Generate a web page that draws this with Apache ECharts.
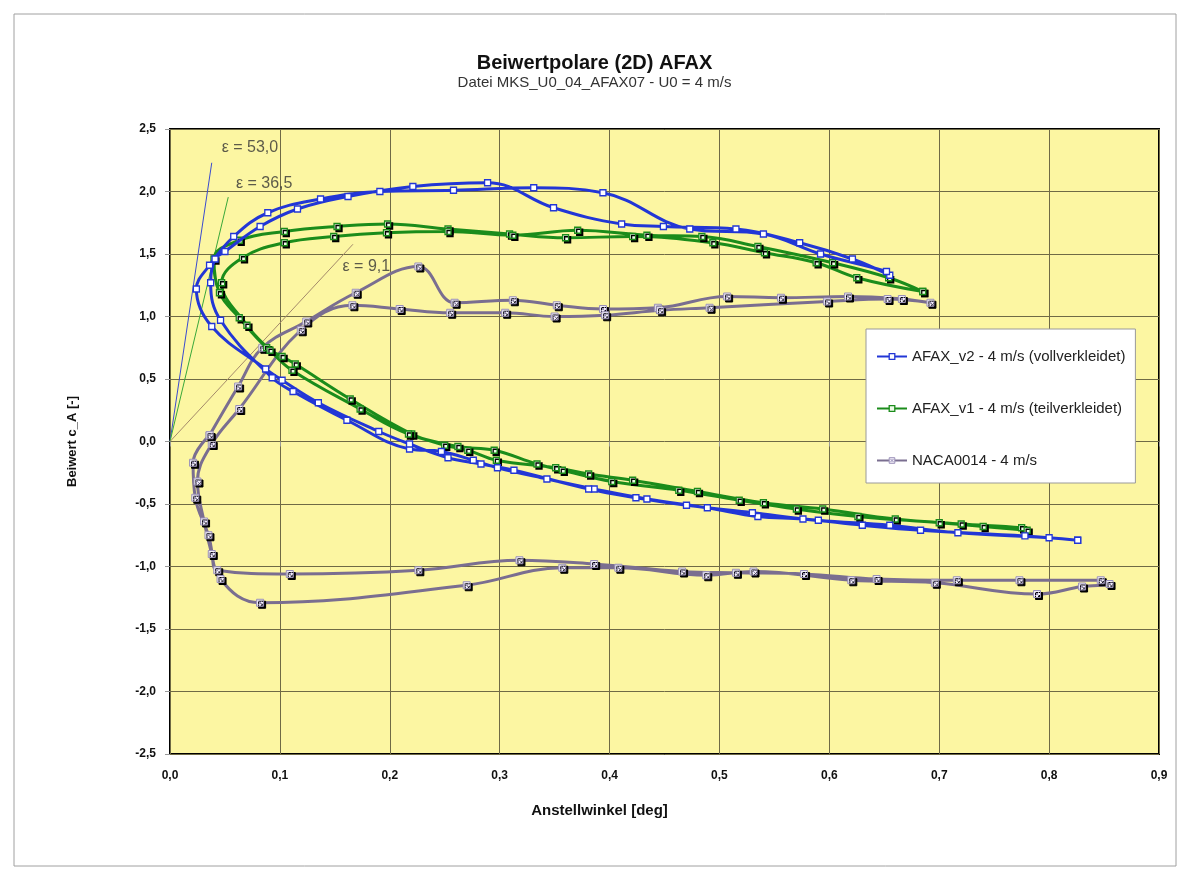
<!DOCTYPE html>
<html><head><meta charset="utf-8">
<script src="https://cdn.jsdelivr.net/npm/echarts@6/dist/echarts.min.js"></script>
<style>html,body{margin:0;padding:0;background:#fff}#c{width:1189px;height:880px}</style>
</head><body><div id="c"></div>
<script>
const titleText = 'Beiwertpolare (2D) AFAX';
const subTitleText = 'Datei MKS_U0_04_AFAX07 - U0 = 4 m/s';
const xAxisName = 'Anstellwinkel [deg]';
const yAxisName = 'Beiwert c_A [-]';
const seriesNames = ['AFAX_v2 - 4 m/s (vollverkleidet)', 'AFAX_v1 - 4 m/s (teilverkleidet)', 'NACA0014 - 4 m/s'];

// AFAX_v2 (blue) — measured loop [angle, cA]
const afaxV2 = [
  [0.826,-0.79],[0.778,-0.755],[0.683,-0.71],[0.63,-0.67],[0.576,-0.62],[0.535,-0.60],[0.489,-0.53],[0.434,-0.46],[0.386,-0.38],[0.343,-0.30],[0.298,-0.21],[0.276,-0.15],[0.247,-0.08],[0.218,-0.06],[0.161,0.17],[0.112,0.40],[0.093,0.51],[0.046,0.97],
  [0.037,1.27],[0.041,1.46],[0.05,1.52],[0.082,1.72],[0.116,1.86],[0.162,1.96],[0.221,2.04],[0.289,2.07],[0.349,1.87],[0.411,1.74],[0.449,1.72],[0.515,1.70],[0.573,1.59],[0.621,1.46],[0.655,1.33],
  [0.652,1.36],[0.592,1.50],[0.54,1.66],[0.473,1.70],[0.394,1.99],[0.331,2.03],[0.258,2.01],[0.191,2.00],[0.137,1.94],[0.089,1.83],[0.058,1.64],[0.036,1.41],[0.024,1.22],
  [0.038,0.92],[0.087,0.58],[0.102,0.49],[0.135,0.31],[0.19,0.08],[0.218,-0.02],[0.253,-0.13],[0.283,-0.18],[0.313,-0.23],[0.381,-0.38],[0.424,-0.45],[0.47,-0.51],[0.53,-0.57],[0.59,-0.63],[0.655,-0.67],[0.717,-0.73],[0.80,-0.77],[0.826,-0.79]
];

// AFAX_v1 (green)
const afaxV1 = [
  [0.685,1.20],[0.625,1.31],[0.588,1.43],[0.541,1.51],[0.494,1.59],[0.421,1.64],[0.36,1.63],[0.309,1.66],[0.253,1.70],[0.198,1.74],[0.152,1.72],[0.104,1.68],[0.063,1.61],[0.040,1.46],
  [0.045,1.19],[0.063,0.99],[0.088,0.75],[0.102,0.68],[0.114,0.62],[0.164,0.34],[0.22,0.06],[0.25,-0.03],[0.271,-0.07],[0.297,-0.15],[0.351,-0.21],[0.381,-0.26],[0.421,-0.31],[0.48,-0.40],[0.54,-0.49],[0.594,-0.54],[0.66,-0.62],[0.72,-0.66],[0.775,-0.69],
  [0.78,-0.71],[0.74,-0.68],[0.70,-0.65],[0.626,-0.60],[0.57,-0.54],[0.518,-0.47],[0.463,-0.39],[0.402,-0.32],[0.357,-0.23],[0.334,-0.18],[0.295,-0.07],[0.262,-0.04],[0.217,0.06],[0.173,0.26],[0.111,0.57],[0.091,0.73],[0.07,0.93],[0.047,1.27],
  [0.066,1.47],[0.104,1.59],[0.149,1.64],[0.197,1.67],[0.253,1.68],[0.312,1.65],[0.371,1.69],[0.434,1.65],[0.484,1.64],[0.535,1.56],[0.603,1.43],[0.654,1.31],[0.685,1.20]
];

// NACA0014 (grey-violet)
const naca0014 = [
  [0.036,0.05],[0.062,0.44],[0.084,0.75],[0.124,0.96],[0.169,1.19],[0.226,1.40],[0.259,1.11],[0.312,1.13],[0.352,1.09],[0.394,1.06],[0.444,1.07],[0.507,1.16],[0.556,1.15],[0.617,1.16],[0.666,1.14],[0.692,1.11],
  [0.653,1.14],[0.598,1.12],[0.491,1.07],[0.446,1.05],[0.396,1.01],[0.35,1.00],[0.305,1.03],[0.255,1.03],[0.209,1.06],[0.166,1.09],[0.119,0.89],[0.063,0.26],[0.038,-0.02],
  [0.025,-0.32],[0.031,-0.64],[0.038,-0.90],[0.043,-1.03],[0.109,-1.06],[0.226,-1.03],[0.318,-0.95],[0.386,-0.98],[0.466,-1.04],[0.515,-1.05],[0.577,-1.06],[0.643,-1.10],[0.716,-1.11],[0.773,-1.11],[0.847,-1.11],[0.855,-1.14],
  [0.83,-1.16],[0.789,-1.22],[0.696,-1.13],[0.62,-1.11],[0.531,-1.04],[0.488,-1.07],[0.408,-1.01],[0.357,-1.01],[0.27,-1.15],[0.082,-1.29],[0.046,-1.10],[0.035,-0.75],[0.023,-0.45],[0.021,-0.17],[0.036,0.05]
];

// glide-ratio lines from origin, and their labels
const tangentEnds = [[0.038,2.23],[0.053,1.955],[0.1665,1.578]];
const tangentLabels = ['ε = 53,0', 'ε = 36,5', 'ε = 9,1'];
const tangentLabelAnchors = [[0.047,2.35],[0.060,2.06],[0.157,1.40]];

const xMin = 0, xMax = 0.9, xStep = 0.1;
const yMin = -2.5, yMax = 2.5, yStep = 0.5;

const fmt = v => v.toFixed(1).replace('.', ',');
const FONT = 'Liberation Sans, Arial, sans-serif';
const colBlue = '#2236d6', colGreen = '#1b8c1b', colNaca = '#7a6e90';
const tanColors = ['#3a4bd0', '#3aa83a', '#a48a6a'];
const markBlue = {color: '#ffffff', borderColor: colBlue, borderWidth: 1.3};
const markGreen = {color: '#eefbe8', borderColor: colGreen, borderWidth: 1.3};
const markNaca = {color: '#f3f0f9', borderColor: '#9a90b8', borderWidth: 1};
const nacaSymbol = 'path://M0,0L10,0L10,10L0,10Z M2,2L8,8 M8,2L2,8';

const chart = echarts.init(document.getElementById('c'), null, {renderer: 'canvas'});
const shadow = {shadowColor: '#000', shadowBlur: 0, shadowOffsetX: 2, shadowOffsetY: 2};

const tangentSeries = tangentEnds.map((e, i) => ({
  type: 'line', data: [[0, 0], e], symbol: 'none', silent: true, z: 1,
  lineStyle: {width: 1, color: tanColors[i]}
}));

chart.setOption({
  backgroundColor: '#fff',
  animation: false,
  graphic: [{type: 'rect', shape: {x: 14, y: 14, width: 1162, height: 852}, style: {fill: 'none', stroke: '#a0a0a0', lineWidth: 1}, silent: true}],
  title: {
    text: titleText, subtext: subTitleText, left: 'center', top: 48, itemGap: 2,
    textStyle: {fontFamily: FONT, fontSize: 20, fontWeight: 'bold', color: '#111'},
    subtextStyle: {fontFamily: FONT, fontSize: 15, color: '#333'}
  },
  grid: {left: 170, right: 30, top: 129, bottom: 126, show: true, backgroundColor: '#fcf6a2', borderColor: '#000', borderWidth: 2},
  legend: {
    data: [
      {name: seriesNames[0], itemStyle: markBlue},
      {name: seriesNames[1], itemStyle: markGreen},
      {name: seriesNames[2], itemStyle: markNaca}
    ],
    orient: 'vertical', left: 866, top: 329, itemGap: 37, itemWidth: 30, itemHeight: 7,
    padding: [20, 10, 15, 10], backgroundColor: '#fff', borderColor: '#9a9a9a', borderWidth: 1,
    textStyle: {fontFamily: FONT, fontSize: 15, color: '#222'}
  },
  xAxis: {
    type: 'value', min: xMin, max: xMax, interval: xStep,
    name: xAxisName, nameLocation: 'middle', nameGap: 49,
    nameTextStyle: {fontFamily: FONT, fontSize: 15, fontWeight: 'bold', color: '#111', padding: [0, 130, 0, 0]},
    axisLine: {show: false}, axisTick: {show: true, length: 5, lineStyle: {color: '#999'}},
    axisLabel: {formatter: fmt, margin: 16, fontFamily: FONT, fontSize: 12, fontWeight: 'bold', color: '#111'},
    splitLine: {show: true, lineStyle: {color: '#6f6a45', width: 1}}
  },
  yAxis: {
    type: 'value', min: yMin, max: yMax, interval: yStep,
    name: yAxisName, nameLocation: 'middle', nameGap: 91, nameRotate: 90,
    nameTextStyle: {fontFamily: FONT, fontSize: 13, fontWeight: 'bold', color: '#111'},
    axisLine: {show: false}, axisTick: {show: true, length: 5, lineStyle: {color: '#999'}},
    axisLabel: {formatter: fmt, margin: 14, fontFamily: FONT, fontSize: 12, fontWeight: 'bold', color: '#111'},
    splitLine: {show: true, lineStyle: {color: '#6f6a45', width: 1}}
  },
  series: [
    ...tangentSeries,
    {
      type: 'scatter', data: tangentLabelAnchors, symbolSize: 0, silent: true, z: 5,
      label: {show: true, position: 'right', distance: 0, formatter: p => tangentLabels[p.dataIndex],
        fontFamily: FONT, fontSize: 16, color: '#333'}
    },
    {
      name: seriesNames[0], type: 'line', data: afaxV2, smooth: 0.4, z: 4,
      symbol: 'rect', symbolSize: 6, showSymbol: true,
      lineStyle: {width: 3, color: colBlue},
      itemStyle: markBlue
    },
    {
      name: seriesNames[1], type: 'line', data: afaxV1, smooth: 0.4, z: 3,
      symbol: 'rect', symbolSize: 6, showSymbol: true,
      lineStyle: {width: 3, color: colGreen},
      itemStyle: Object.assign({}, markGreen, shadow)
    },
    {
      name: seriesNames[2], type: 'line', data: naca0014, smooth: 0.4, z: 2,
      symbol: nacaSymbol, symbolSize: 7, showSymbol: true,
      lineStyle: {width: 3, color: colNaca},
      itemStyle: Object.assign({}, markNaca, shadow)
    }
  ]
});
</script>
</body></html>
